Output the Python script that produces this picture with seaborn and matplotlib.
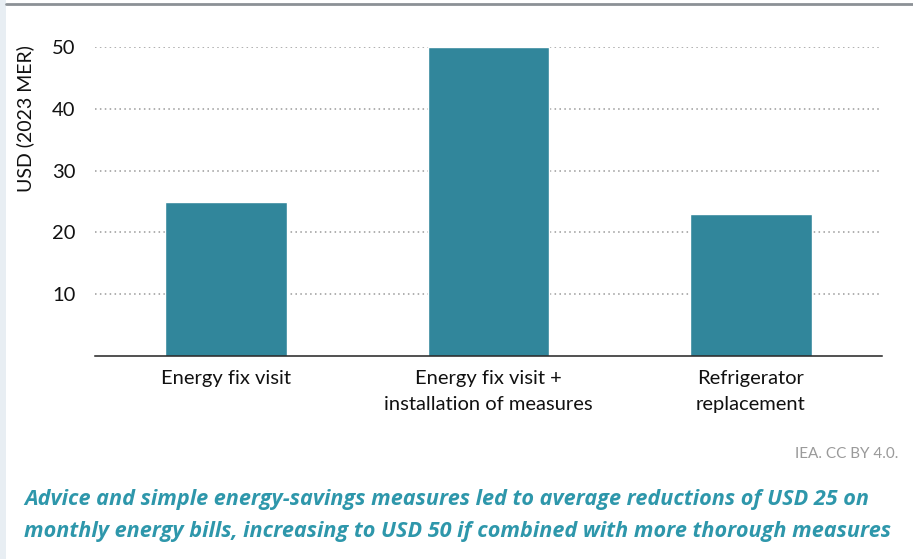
import matplotlib
matplotlib.use("Agg")
import matplotlib.pyplot as plt
import seaborn as sns
import pandas as pd
from matplotlib.patches import Rectangle
from matplotlib.lines import Line2D

# Data
categories = ["Energy fix visit", "Energy fix visit +\ninstallation of measures", "Refrigerator\nreplacement"]
savings = [25, 50, 23]
y_ticks = [10, 20, 30, 40, 50]

df = pd.DataFrame({"measure": categories, "usd": savings})

sns.set_theme(style="white")
plt.rcParams["font.family"] = ["Lato", "DejaVu Sans"]

fig = plt.figure(figsize=(9.13, 5.59), dpi=100)
fig.patch.set_facecolor("white")

# Page frame: left strip and top rule
fig.add_artist(Rectangle((0, 0), 6 / 913, 1, transform=fig.transFigure,
                         facecolor="#e8eef3", edgecolor="none", zorder=0))
fig.add_artist(Line2D([6 / 913, 1], [1 - 4 / 559, 1 - 4 / 559], transform=fig.transFigure,
                      color="#8c9196", linewidth=2))

ax = fig.add_axes([95 / 913, 1 - 356 / 559, (882 - 95) / 913, (356 - 47) / 559])
sns.barplot(data=df, x="measure", y="usd", color="#31869b", saturation=1,
            width=0.465, ax=ax, zorder=2)

ax.set_ylim(0, 50)
ax.set_yticks(y_ticks)
ax.yaxis.grid(True, linestyle=(0, (1, 2.2)), color="#9a9a9a", linewidth=1.1, zorder=0)
ax.set_axisbelow(True)
for s in ["top", "right", "left"]:
    ax.spines[s].set_visible(False)
ax.spines["bottom"].set_color("#222222")
ax.spines["bottom"].set_linewidth(1.1)
ax.tick_params(axis="both", length=0, labelsize=14.5, colors="#111111")
ax.tick_params(axis="y", pad=14)
ax.tick_params(axis="x", pad=10)
for lbl in ax.get_xticklabels():
    lbl.set_linespacing(1.68)
ax.set_xlabel("")
ax.set_ylabel("USD (2023 MER)", fontsize=14, color="#111111")
ax.yaxis.set_label_coords(-0.077, 0.77)
ax.set_facecolor("white")

fig.text(898 / 913, 1 - 454 / 559, "IEA. CC BY 4.0.", ha="right", va="center",
         fontsize=11, color="#9a9a9a")

# Two-line caption, sized so the longer line spans the text block width
caption_lines = [
    "Advice and simple energy-savings measures led to average reductions of USD 25 on",
    "monthly energy bills, increasing to USD 50 if combined with more thorough measures",
]
cap_style = dict(ha="left", va="center", fontweight="bold", fontstyle="italic",
                 color="#2e97ab", family="Open Sans")
renderer = fig.canvas.get_renderer()
probe = fig.text(0, 0, caption_lines[1], fontsize=15, **cap_style)
w = probe.get_window_extent(renderer).width
probe.remove()
cap_size = 15 * 866 / w
fig.text(24 / 913, 1 - 499 / 559, caption_lines[0], fontsize=cap_size, **cap_style)
fig.text(24 / 913, 1 - 531 / 559, caption_lines[1], fontsize=cap_size, **cap_style)

fig.savefig("out.png", dpi=100)
